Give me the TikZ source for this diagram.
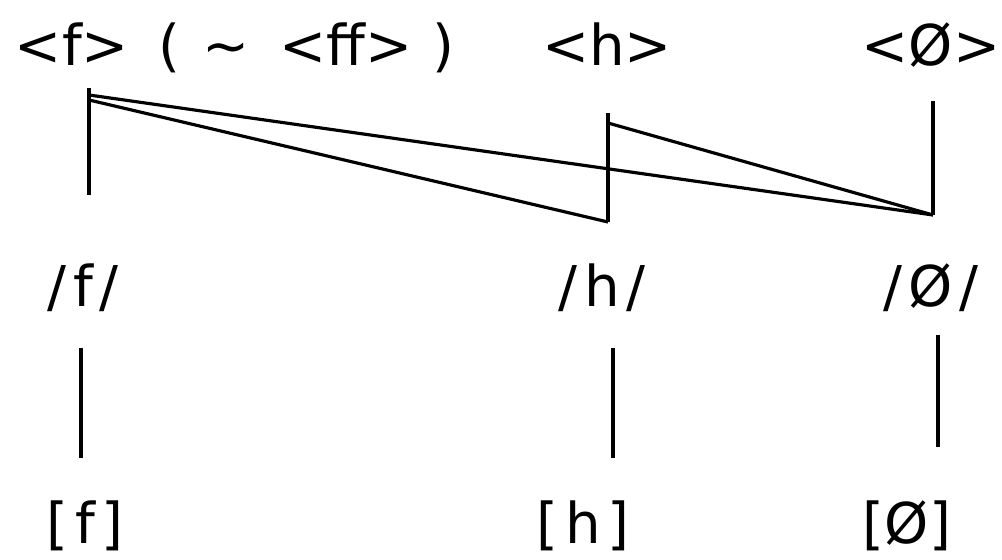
\documentclass[tikz,border=0pt]{standalone}
\usepackage{fontspec}
\setmainfont{DejaVu Sans}
\usetikzlibrary{positioning}
\tikzset{
    sym/.style={
        anchor=base,
        inner sep=0pt,
        font=\fontsize{32}{38}\selectfont
    },
    link/.style={
        line width=1.8pt,
        line cap=butt
    }
}
\newcommand{\gap}{\kern0.12em}
\begin{document}
\begin{tikzpicture}[x=0.02cm, y=-0.02cm]
\useasboundingbox (0,0) rectangle (1002,560);

% graphemes
\node[sym] (g-f) at (72,66) {<f>};
\node[sym, anchor=base west] (g-ff) at (158,66) {(\hspace{0.39em}\textasciitilde\hspace{0.54em}<ff>\hspace{0.36em})};
\node[sym] (g-h) at (607,66) {<h>};
\node[sym] (g-o) at (931,66) {<Ø>};

% phonemes
\node[sym] (p-f) at (83,307) {/\gap f\gap/};
\node[sym] (p-h) at (602,307) {/\gap h\gap/};
\node[sym] (p-o) at (931,307) {/\gap Ø\gap/};

% phones
\node[sym] (a-f) at (85,544) {[\gap f\gap]};
\node[sym] (a-h) at (583,544) {[\gap h\gap]};
\node[sym] (a-o) at (907,544) {[Ø]};

% grapheme to phoneme
\coordinate (f-top) at (89,88);
\coordinate (f-a) at (89,95);
\coordinate (f-b) at (89,100);
\coordinate (f-bot) at (89,195);
\coordinate (h-top) at (608,113);
\coordinate (h-a) at (608,123);
\coordinate (h-bot) at (608,222);
\coordinate (o-top) at (933,101);
\coordinate (o-bot) at (933,215);

\draw[link] (f-top) -- (f-bot);
\draw[link] (h-top) -- (h-bot);
\draw[link] (o-top) -- (o-bot);
\draw[link] (f-a) -- (o-bot);
\draw[link] (f-b) -- (h-bot);
\draw[link] (h-a) -- (o-bot);

% phoneme to phone
\coordinate (f-up) at (81,348);
\coordinate (f-down) at (81,458);
\coordinate (h-up) at (613,348);
\coordinate (h-down) at (613,458);
\coordinate (o-up) at (938,335);
\coordinate (o-down) at (938,447);

\draw[link] (f-up) -- (f-down);
\draw[link] (h-up) -- (h-down);
\draw[link] (o-up) -- (o-down);
\end{tikzpicture}
\end{document}
